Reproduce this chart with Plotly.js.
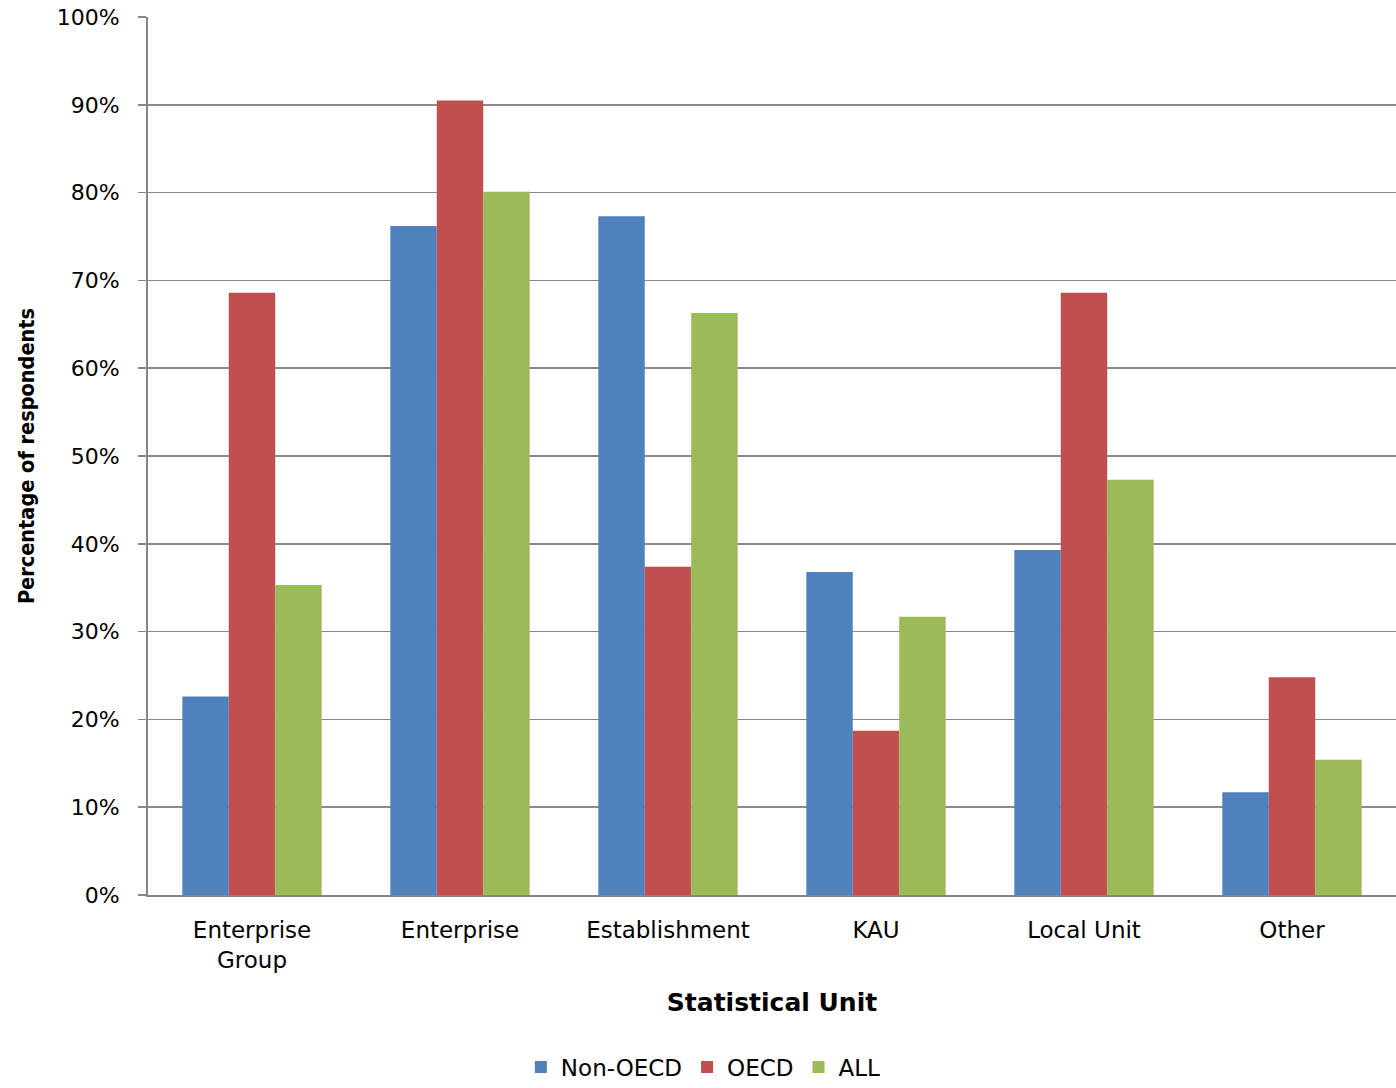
<!DOCTYPE html>
<html>
<head>
<meta charset="utf-8">
<script src="https://cdn.plot.ly/plotly-3.0.1.min.js"></script>
<style>html,body{margin:0;padding:0;background:#fff;}#chart{width:1396px;height:1088px;}</style>
</head>
<body>
<div id="chart"></div>
<script>
const categories = ["Enterprise<br>Group", "Enterprise", "Establishment", "KAU", "Local Unit", "Other"];
const nonOECD = [0.226, 0.762, 0.773, 0.368, 0.393, 0.117];
const oecd = [0.686, 0.905, 0.374, 0.187, 0.686, 0.248];
const all = [0.353, 0.801, 0.663, 0.317, 0.473, 0.154];
const yTickVals = [0, 0.1, 0.2, 0.3, 0.4, 0.5, 0.6, 0.7, 0.8, 0.9, 1.0];
const yTickText = ["0%", "10%", "20%", "30%", "40%", "50%", "60%", "70%", "80%", "90%", "100%"];

const traces = [
  {type: "bar", name: "Non-OECD", x: categories, y: nonOECD, marker: {color: "#4F81BD"}},
  {type: "bar", name: "OECD", x: categories, y: oecd, marker: {color: "#C0504D"}},
  {type: "bar", name: "ALL", x: categories, y: all, marker: {color: "#9BBB59"}}
];

const layout = {
  width: 1396, height: 1088,
  margin: {l: 148, r: 0, t: 17, b: 193, autoexpand: false},
  paper_bgcolor: "#fff", plot_bgcolor: "#fff",
  barmode: "group", bargap: 0.33, bargroupgap: 0,
  font: {family: "DejaVu Sans, sans-serif", color: "#000", size: 20},
  xaxis: {
    showline: true, linecolor: "#878787", linewidth: 2,
    ticks: "", showgrid: false, automargin: false,
    tickfont: {size: 23, family: "DejaVu Sans, sans-serif"},
    ticklabelstandoff: 13,
    title: {text: "Statistical Unit", font: {size: 25, family: "DejaVu Sans, sans-serif", weight: "bold"}, standoff: 22}
  },
  yaxis: {
    range: [0, 1.0], tickvals: yTickVals, ticktext: yTickText,
    showline: true, linecolor: "#878787", linewidth: 2,
    ticks: "outside", ticklen: 8, tickcolor: "#878787", tickwidth: 1.5,
    showgrid: true, gridcolor: "#8a8a8a", gridwidth: 1.5,
    zeroline: false, automargin: false,
    tickfont: {size: 22, family: "DejaVu Sans, sans-serif"},
    ticklabelstandoff: 14,
    title: {text: "Percentage of respondents", font: {size: 21.5, family: "DejaVu Sans Condensed, Liberation Sans Narrow, sans-serif", weight: "bold"}, standoff: 16}
  },
  showlegend: true,
  legend: {
    orientation: "h", x: 0.445, xanchor: "center", y: -0.196, yanchor: "middle",
    font: {size: 23, family: "DejaVu Sans, sans-serif"},
    traceorder: "normal", itemwidth: 30
  }
};

Plotly.newPlot("chart", traces, layout, {displayModeBar: false, staticPlot: true});
</script>
</body>
</html>
